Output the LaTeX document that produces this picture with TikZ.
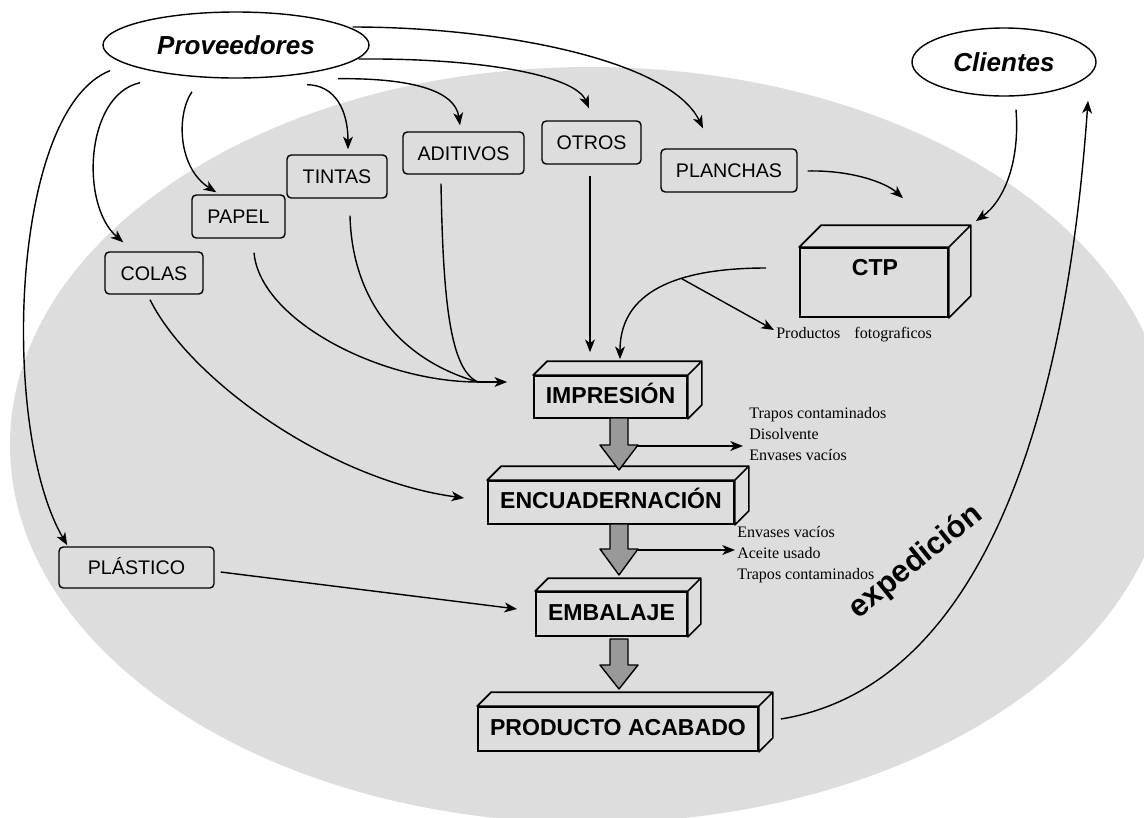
\documentclass[tikz,border=0pt]{standalone}
\usepackage{fontspec}
\setmainfont{Liberation Sans}
\newfontfamily\wastefont{Liberation Serif}
\usetikzlibrary{arrows.meta,shapes.geometric}
\definecolor{bggray}{HTML}{DDDDDD}
\definecolor{flowgray}{HTML}{999999}
\newlength\px
\setlength\px{0.025cm}

\begin{document}
\begin{tikzpicture}[x=0.025cm,y=-0.025cm,
  conn/.style={line width=1pt},
  arr/.style={conn,-{Stealth[length=9pt,width=7pt,inset=2.5pt]}},
  matbox/.style={draw,fill=bggray,rounded corners=3pt,line width=1pt,inner sep=0pt,
    text height=10pt,text depth=0pt,font=\fontsize{14}{16}\selectfont},
  procbox/.style={draw,fill=bggray,line width=1.2pt,inner sep=0pt,
    text height=11pt,text depth=2pt,font=\bfseries\fontsize{16.4}{18}\selectfont},
  procface/.style={draw,fill=bggray,line width=1.2pt,line join=round},
  actor/.style={draw,ellipse,fill=white,line width=1pt,inner sep=0pt,
    font=\bfseries\itshape\fontsize{18.5}{20}\selectfont},
  waste/.style={align=left,inner sep=0pt,font=\wastefont\fontsize{11.4}{15}\selectfont},
  flow/.style={draw,fill=flowgray,line width=1pt,line join=round}]
\useasboundingbox (0,0) rectangle (1144,817);
\fill[bggray] (590,445) ellipse [x radius=580, y radius=378];

\node[actor, minimum width=266\px, minimum height=66\px] (prov) at (236,45) {Proveedores};
\node[actor, minimum width=184\px, minimum height=68\px] (clientes) at (1004,62) {Clientes};

\node[matbox, minimum width=98\px, minimum height=42\px] (colas) at (154,273) {COLAS};
\node[matbox, minimum width=93\px, minimum height=43\px] (papel) at (238.5,216.5) {PAPEL};
\node[matbox, minimum width=100\px, minimum height=43\px] (tintas) at (337,176.5) {TINTAS};
\node[matbox, minimum width=121\px, minimum height=42\px] (aditivos) at (463.5,153) {ADITIVOS};
\node[matbox, minimum width=99\px, minimum height=43\px] (otros) at (591.5,142.5) {OTROS};
\node[matbox, minimum width=136\px, minimum height=43\px] (planchas) at (729,170.5) {PLANCHAS};
\node[matbox, minimum width=155\px, minimum height=41\px] (plastico) at (136.5,567.5) {PLÁSTICO};

\node[procbox, minimum width=153\px, minimum height=42\px] (impresion) at (610.5,397) {IMPRESIÓN};
\node[procbox, minimum width=246\px, minimum height=43\px] (encuadernacion) at (611,502.5) {ENCUADERNACIÓN};
\node[procbox, minimum width=151\px, minimum height=44\px] (embalaje) at (611.5,614) {EMBALAJE};
\node[procbox, minimum width=280\px, minimum height=44\px] (producto) at (618,729) {PRODUCTO ACABADO};
\node[procbox, minimum width=148\px, minimum height=69\px] (ctp) at (874,282.5) {};
\node[font=\bfseries\fontsize{16.4}{18}\selectfont] (ctplabel) at (875,268) {CTP};
\foreach \b/\d in {impresion/14,encuadernacion/14,embalaje/13,producto/14,ctp/22}
  \draw[procface] (\b.north west) -- ++(\d,-\d) -- ([shift={(\d,-\d)}]\b.north east)
    -- ([shift={(\d,-\d)}]\b.south east) -- (\b.south east) -- (\b.north east) -- cycle
    (\b.north east) -- ++(\d,-\d);

\foreach \ya/\yb/\yc in {418/445/470,524/549/575,639/665/689}
  \draw[flow] (610,\ya) -- (628,\ya) -- (628,\yb) -- (638,\yb) -- (619,\yc) -- (600,\yb) -- (610,\yb) -- cycle;

\node[waste, anchor=west] (waste1) at (749,434) {Trapos contaminados\\Disolvente\\Envases vacíos};
\node[waste, anchor=west] (waste2) at (737,555) {Envases vacíos\\Aceite usado\\Trapos contaminados};
\node[waste, anchor=west] (foto) at (776,335) {Productos\hspace{10pt}fotograficos};
\node[font=\bfseries\fontsize{22}{24}\selectfont, rotate=39] (exped) at (916,562) {expedición};

\coordinate (flow1) at (637,446);
\coordinate (flow2) at (637,550);
\coordinate (conv) at (478,382);

\draw[arr] ([shift={(-96,4)}]prov.south) .. controls (85,95) and (80,205) .. ([shift={(19,-9)}]colas.north west);
\draw[arr] ([shift={(-44,13)}]prov.south) .. controls (176,115) and (178,168) .. ([shift={(25,-2)}]papel.north west);
\draw[arr] ([shift={(71,6)}]prov.south) .. controls (335,85) and (348,110) .. ([shift={(11,-5)}]tintas.north);
\draw[arr] ([shift={(-126,-8)}]prov.south) .. controls (10,110) and (0,430) .. ([shift={(9,-1)}]plastico.north west);
\draw[arr] ([shift={(102,0)}]prov.south) .. controls (410,78) and (455,90) .. ([shift={(-3.5,-6)}]aditivos.north);
\draw[arr] ([shift={(-11,14)}]prov.east) .. controls (480,58) and (575,75) .. ([shift={(-2.5,-12)}]otros.north);
\draw[arr] ([shift={(-17,-18)}]prov.east) .. controls (500,27) and (670,60) .. ([shift={(-26,-20)}]planchas.north);

\draw[conn] ([shift={(15.5,14)}]papel.south) .. controls (260,320) and (380,382) .. (conv);
\draw[conn] ([shift={(13,17)}]tintas.south) .. controls (352,300) and (400,360) .. (conv);
\draw[conn] ([shift={(-22.5,9)}]aditivos.south) .. controls (443,300) and (450,370) .. (conv);
\draw[arr] (conv) -- ([shift={(-26,-15)}]impresion.west);
\draw[arr] ([shift={(-1.5,11)}]otros.south) -- ([shift={(-20.5,-23)}]impresion.north);
\draw[arr] ([shift={(-4,5)}]colas.south) .. controls (190,380) and (330,480) .. ([shift={(-23,-4.5)}]encuadernacion.west);
\draw[arr] ([shift={(6,4.5)}]plastico.east) -- ([shift={(-18,-5)}]embalaje.west);

\draw[arr] ([shift={(10,0.5)}]planchas.east) .. controls (850,170) and (885,182) .. ([shift={(29,-49)}]ctp.north);
\draw[arr] ([shift={(12,13)}]clientes.south) .. controls (1020,160) and (1005,200) .. ([shift={(27,-26)}]ctp.north east);
\draw[arr] ([shift={(-33,-14.5)}]ctp.west) .. controls (690,268) and (620,285) .. coordinate[pos=0.4] (br) ([shift={(9.5,-16)}]impresion.north);
\draw[arr] (br) -- ([shift={(-2,-5)}]foto.west);

\draw[arr] (flow1) -- ([shift={(-6,12)}]waste1.west);
\draw[arr] (flow2) -- ([shift={(-2,-5)}]waste2.west);

\draw[arr] ([shift={(22,-10)}]producto.east) .. controls (960,690) and (1062,470) .. ([shift={(84,4)}]clientes.south);
\end{tikzpicture}
\end{document}
